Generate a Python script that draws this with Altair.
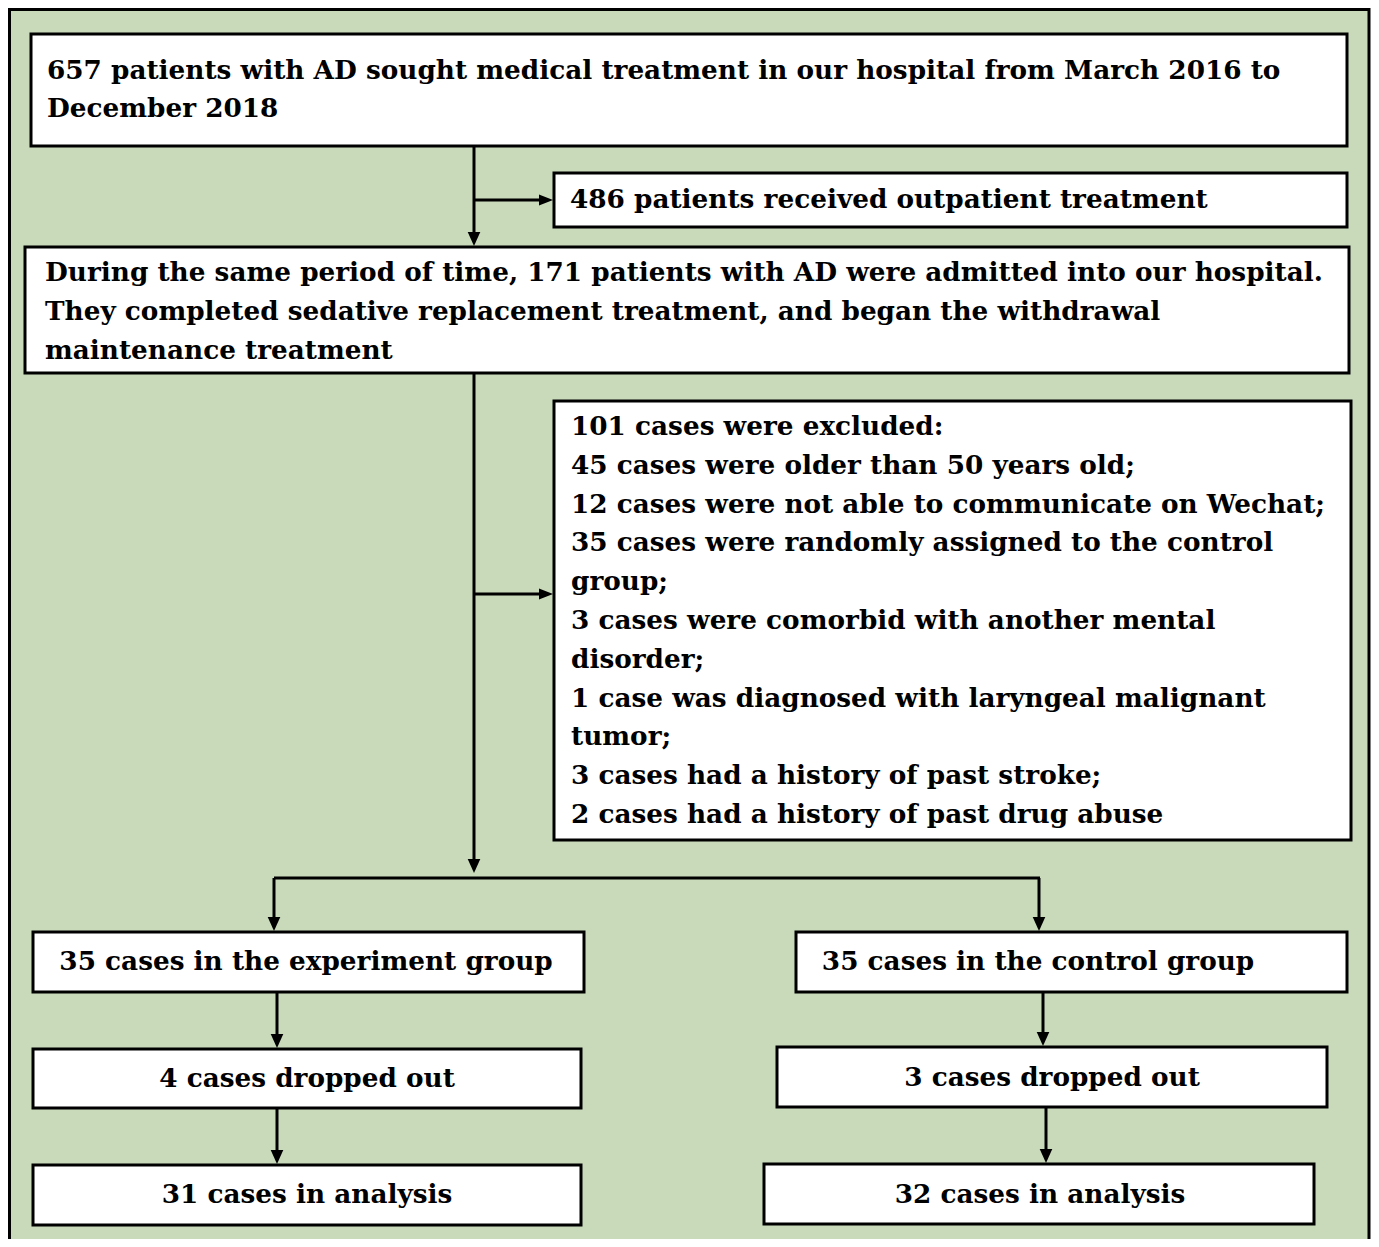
import altair as alt
import pandas as pd

# ---------------- text content ----------------
top_lines = [
    "657 patients with AD sought medical treatment in our hospital from March 2016 to",
    "December 2018",
]
outpatient_lines = ["486 patients received outpatient treatment"]
admitted_lines = [
    "During the same period of time, 171 patients with AD were admitted into our hospital.",
    "They completed sedative replacement treatment, and began the withdrawal",
    "maintenance treatment",
]
excluded_lines = [
    "101 cases were excluded:",
    "45 cases were older than 50 years old;",
    "12 cases were not able to communicate on Wechat;",
    "35 cases were randomly assigned to the control",
    "group;",
    "3 cases were comorbid with another mental",
    "disorder;",
    "1 case was diagnosed with laryngeal malignant",
    "tumor;",
    "3 cases had a history of past stroke;",
    "2 cases had a history of past drug abuse",
]
group_labels = [
    "35 cases in the experiment group",
    "35 cases in the control group",
    "4 cases dropped out",
    "3 cases dropped out",
    "31 cases in analysis",
    "32 cases in analysis",
]

# ---------------- layout (pixel coordinates) ----------------
W, H = 1363, 1231
X0, Y0 = 8, 8

frame = [(9.5, 9.5, 1369, 1262)]
boxes = [
    (31, 34, 1347, 146),
    (554, 173, 1347, 227),
    (25, 247, 1349, 373),
    (554, 401, 1351, 840),
    (33, 932, 584, 992),
    (796, 932, 1347, 992),
    (33, 1049, 581, 1108),
    (777, 1047, 1327, 1107),
    (33, 1165, 581, 1225),
    (764, 1164, 1314, 1224),
]
segments = [
    (474, 146, 474, 238),
    (474, 200, 545, 200),
    (474, 373, 474, 866),
    (474, 594, 545, 594),
    (274, 878, 1040, 878),
    (274, 878, 274, 924),
    (1039, 878, 1039, 924),
    (277, 992, 277, 1042),
    (1043, 992, 1043, 1040),
    (277, 1108, 277, 1158),
    (1046, 1107, 1046, 1157),
]
# arrow tips: (x, y, direction)
arrows = [
    (474, 246, "down"),
    (553, 200, "right"),
    (474, 873, "down"),
    (553, 594, "right"),
    (274, 931, "down"),
    (1039, 931, "down"),
    (277, 1048, "down"),
    (1043, 1046, "down"),
    (277, 1164, "down"),
    (1046, 1163, "down"),
]

# text placements
left_text = []
def add_lines(lines, x, y_first, step):
    for i, t in enumerate(lines):
        left_text.append({"x": x, "y": y_first + i * step, "t": t})

add_lines(top_lines, 47, 71, 37.5)
add_lines(outpatient_lines, 570, 200, 0)
add_lines(admitted_lines, 45, 273, 39)
add_lines(excluded_lines, 571, 427, 38.8)

center_pos = [(306, 962), (1038, 962), (307, 1079), (1052, 1078), (307, 1195), (1040, 1195)]
center_text = [{"x": p[0], "y": p[1], "t": t} for p, t in zip(center_pos, group_labels)]

ARR = 7
arrow_rows = []
for x, y, d in arrows:
    if d == "down":
        arrow_rows.append({"x": x, "y": y - ARR, "d": d})
    else:
        arrow_rows.append({"x": x - ARR, "y": y, "d": d})

xs = alt.Scale(domain=[X0, X0 + W], range=[0, W], nice=False, zero=False)
ys = alt.Scale(domain=[Y0, Y0 + H], range=[0, H], nice=False, zero=False)

def rect_df(rs):
    return pd.DataFrame([{"x": a, "y": b, "x2": c, "y2": d} for a, b, c, d in rs])

GREEN = "#C9DABB"

frame_layer = alt.Chart(rect_df(frame)).mark_rect(
    fill=GREEN, stroke="black", strokeWidth=3
).encode(
    x=alt.X("x:Q", scale=xs, axis=None), x2="x2:Q",
    y=alt.Y("y:Q", scale=ys, axis=None), y2="y2:Q",
)

box_layer = alt.Chart(rect_df(boxes)).mark_rect(
    fill="white", stroke="black", strokeWidth=3
).encode(
    x=alt.X("x:Q", scale=xs, axis=None), x2="x2:Q",
    y=alt.Y("y:Q", scale=ys, axis=None), y2="y2:Q",
)

seg_layer = alt.Chart(rect_df(segments)).mark_rule(
    color="black", strokeWidth=3
).encode(
    x=alt.X("x:Q", scale=xs, axis=None), x2="x2:Q",
    y=alt.Y("y:Q", scale=ys, axis=None), y2="y2:Q",
)

adf = pd.DataFrame(arrow_rows)
down_layer = alt.Chart(adf[adf.d == "down"]).mark_point(
    shape="M-0.9,-1L0.9,-1L0,1Z", filled=True, color="black",
    size=196, opacity=1, strokeWidth=0
).encode(
    x=alt.X("x:Q", scale=xs, axis=None),
    y=alt.Y("y:Q", scale=ys, axis=None),
)
right_layer = alt.Chart(adf[adf.d == "right"]).mark_point(
    shape="M-1,-0.8L-1,0.8L1,0Z", filled=True, color="black",
    size=196, opacity=1, strokeWidth=0
).encode(
    x=alt.X("x:Q", scale=xs, axis=None),
    y=alt.Y("y:Q", scale=ys, axis=None),
)

FONT = "DejaVu Serif"
FS = 26.3
ltext_layer = alt.Chart(pd.DataFrame(left_text)).mark_text(
    align="left", baseline="middle", font=FONT, fontWeight="bold",
    fontSize=FS, color="black"
).encode(
    x=alt.X("x:Q", scale=xs, axis=None),
    y=alt.Y("y:Q", scale=ys, axis=None),
    text="t:N",
)
ctext_layer = alt.Chart(pd.DataFrame(center_text)).mark_text(
    align="center", baseline="middle", font=FONT, fontWeight="bold",
    fontSize=FS, color="black"
).encode(
    x=alt.X("x:Q", scale=xs, axis=None),
    y=alt.Y("y:Q", scale=ys, axis=None),
    text="t:N",
)

chart = alt.layer(
    frame_layer, seg_layer, box_layer, down_layer, right_layer, ltext_layer, ctext_layer
).properties(
    width=W, height=H, padding=0, autosize=alt.AutoSizeParams(type="none"),
    background="white",
).configure_view(stroke=None)

chart.save("out.html", embed_options={"renderer": "svg", "actions": False})
